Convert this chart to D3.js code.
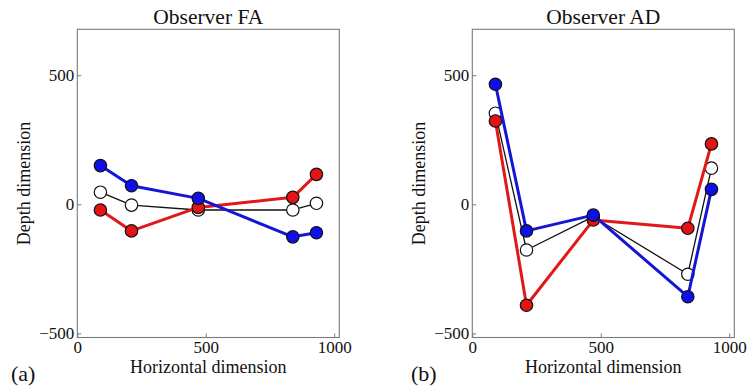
<!DOCTYPE html>
<html>
<head>
<meta charset="utf-8">
<script src="https://cdn.jsdelivr.net/npm/d3@7/dist/d3.min.js"></script>
<style>
  html, body { margin: 0; padding: 0; background: #fff; }
  svg { display: block; }
</style>
</head>
<body>
<svg id="chart" width="747" height="389"></svg>
<script>
// Horizontal positions of the five probe locations (shared by all series)
const positions = [90, 211, 471, 839, 931];

// Observer FA: depth estimates per condition
const faMean = [47, -3, -22, -22, 4];
const faRed  = [-22, -103, -12, 27, 116];
const faBlue = [150, 72, 23, -126, -110];

// Observer AD: depth estimates per condition
const adMean = [353, -177, -48, -271, 140];
const adRed  = [323, -391, -61, -93, 234];
const adBlue = [465, -103, -42, -358, 58];

const panelTitles = ["Observer FA", "Observer AD"];
const panelTags = ["(a)", "(b)"];
const xTickValues = [0, 500, 1000];
const yTickValues = [-500, 0, 500];

const SERIF = '"Liberation Serif", "Times New Roman", "DejaVu Serif", serif';

const panels = [
  { title: panelTitles[0], tag: panelTags[0], series: [faMean, faRed, faBlue], left: 77.3, tagX: 11 },
  { title: panelTitles[1], tag: panelTags[1], series: [adMean, adRed, adBlue], left: 472.3, tagX: 411 }
];

// Drawing style for each series: open/black, red, blue (drawn in this order)
const styles = [
  { line: "#111", width: 1.3, fill: "#ffffff" },
  { line: "#e01818", width: 3, fill: "#e51414" },
  { line: "#1515d6", width: 3, fill: "#0f0fe8" }
];

// Integer labels with a typographic minus and no thousands separator
const tickFmt = d => (d < 0 ? "\u2212" : "") + Math.abs(d);

const svg = d3.select("#chart");
const frameW = 262, frameTop = 29.3, frameBottom = 337.5;

panels.forEach(p => {
  const x = d3.scaleLinear().domain([0, 1020]).range([p.left, p.left + frameW]);
  const y = d3.scaleLinear().domain([-516, 678]).range([frameBottom, frameTop]);
  const g = svg.append("g");

  // Frame
  g.append("rect")
    .attr("x", p.left).attr("y", frameTop)
    .attr("width", frameW).attr("height", frameBottom - frameTop)
    .attr("fill", "none").attr("stroke", "#7a7a7a").attr("stroke-width", 1.1);

  // Axes with small inward ticks
  const yAxis = g.append("g")
    .attr("transform", `translate(${p.left},0)`)
    .call(d3.axisLeft(y).tickValues(yTickValues).tickFormat(tickFmt)
      .tickSizeInner(-4).tickSizeOuter(0).tickPadding(3));
  const xAxis = g.append("g")
    .attr("transform", `translate(0,${frameBottom})`)
    .call(d3.axisBottom(x).tickValues(xTickValues).tickFormat(tickFmt)
      .tickSizeInner(-4).tickSizeOuter(0).tickPadding(3));
  [xAxis, yAxis].forEach(a => {
    a.attr("font-family", SERIF).attr("font-size", 17);
    a.select(".domain").remove();
    a.selectAll(".tick line").attr("stroke", "#7a7a7a");
    a.selectAll(".tick text").attr("fill", "#111");
  });

  // Series: connecting lines and circular markers
  const line = d3.line().x((d, i) => x(positions[i])).y(d => y(d));
  p.series.forEach((vals, si) => {
    const s = styles[si];
    g.append("path")
      .datum(vals)
      .attr("d", line)
      .attr("fill", "none")
      .attr("stroke", s.line)
      .attr("stroke-width", s.width)
      .attr("stroke-linejoin", "round");
    g.selectAll(null)
      .data(vals)
      .enter().append("circle")
      .attr("cx", (d, i) => x(positions[i]))
      .attr("cy", d => y(d))
      .attr("r", 6.2)
      .attr("fill", s.fill)
      .attr("stroke", "#111")
      .attr("stroke-width", 1.2);
  });

  // Titles and labels
  const cx = p.left + frameW / 2;
  const label = (sel, size) => sel.attr("font-family", SERIF).attr("font-size", size).attr("fill", "#111");
  g.append("text")
    .attr("x", cx).attr("y", 24)
    .attr("text-anchor", "middle")
    .call(label, 21.5)
    .text(p.title);
  g.append("text")
    .attr("x", cx).attr("y", 373)
    .attr("text-anchor", "middle")
    .call(label, 18)
    .text("Horizontal dimension");
  g.append("text")
    .attr("transform", `translate(${p.left - 53},${(frameTop + frameBottom) / 2}) rotate(-90)`)
    .attr("text-anchor", "middle")
    .attr("dy", "0.32em")
    .call(label, 18)
    .text("Depth dimension");
  g.append("text")
    .attr("x", p.tagX).attr("y", 381)
    .call(label, 22)
    .text(p.tag);
});
</script>
</body>
</html>
